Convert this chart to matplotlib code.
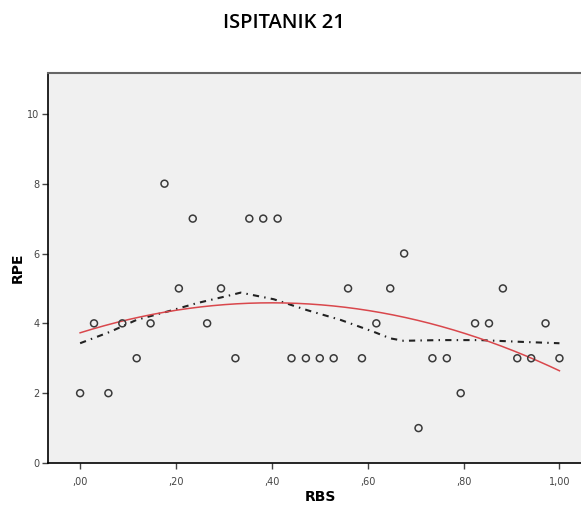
import numpy as np
import matplotlib.pyplot as plt

# RBS / RPE values for subject 21
rbs = [0.000, 0.029, 0.059, 0.088, 0.118, 0.147, 0.176, 0.206, 0.235, 0.265,
       0.294, 0.324, 0.353, 0.382, 0.412, 0.441, 0.471, 0.500, 0.529, 0.559,
       0.588, 0.618, 0.647, 0.676, 0.706, 0.735, 0.765, 0.794, 0.824, 0.853,
       0.882, 0.912, 0.941, 0.971, 1.000]
rpe = [2, 4, 2, 4, 3, 4, 8, 5, 7, 4,
       5, 3, 7, 7, 7, 3, 3, 3, 3, 5,
       3, 4, 5, 6, 1, 3, 3, 2, 4, 4,
       5, 3, 3, 4, 3]

# loess fit line (from SPSS output)
loess_x = [0.0, 0.063, 0.118, 0.188, 0.244, 0.306, 0.335, 0.404, 0.473,
           0.543, 0.612, 0.647, 0.675, 0.75, 0.835, 0.92, 1.0]
loess_y = [3.43, 3.76, 4.10, 4.36, 4.58, 4.78, 4.88, 4.69, 4.38,
           4.10, 3.76, 3.57, 3.50, 3.52, 3.52, 3.47, 3.43]

x_ticks = [0.0, 0.2, 0.4, 0.6, 0.8, 1.0]
x_tick_labels = [',00', ',20', ',40', ',60', ',80', '1,00']
y_ticks = [0, 2, 4, 6, 8, 10]

x = np.array(rbs)
y = np.array(rpe, dtype=float)

# quadratic fit
coef = np.polyfit(x, y, 2)
xs = np.linspace(0, 1, 200)
quad = np.polyval(coef, xs)

fig = plt.figure(figsize=(5.81, 5.08), dpi=100)
ax = fig.add_axes([48 / 581, 45 / 508, 545 / 581, 390 / 508])
ax.set_facecolor('#f0f0f0')

ax.plot(loess_x, loess_y, color='#222222', lw=1.5, dashes=(3, 2.5, 0.7, 2.5))
ax.plot(xs, quad, color='#d9474c', lw=1.1)
ax.scatter(x, y, s=25, facecolors='none', edgecolors='#3a3a3a', linewidths=1.1, zorder=3)

ax.set_xlim(-0.067, 1.07)
ax.set_ylim(0, 11.17)
ax.set_xticks(x_ticks)
ax.set_xticklabels(x_tick_labels)
ax.set_yticks(y_ticks)
ax.tick_params(labelsize=7, colors='#444444', length=4, width=1, pad=2)
ax.tick_params(axis='x', pad=6)

for side in ['left', 'bottom']:
    ax.spines[side].set_color('black')
    ax.spines[side].set_linewidth(1.2)
ax.spines['top'].set_color('#666666')
ax.spines['top'].set_linewidth(1.5)
ax.spines['right'].set_visible(False)

ax.set_xlabel('RBS', fontsize=10, fontweight='bold', labelpad=2)
ax.set_ylabel('RPE', fontsize=10, fontweight='bold', labelpad=2)

fig.text(0.489, 0.955, 'ISPITANIK 21', ha='center', va='center',
         fontsize=14.5, family='Open Sans', fontweight='semibold')

fig.savefig('out.png', dpi=100)
